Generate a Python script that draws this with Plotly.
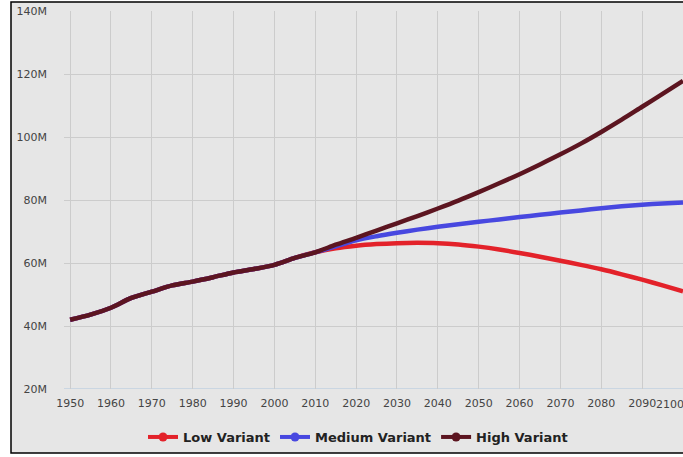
import plotly.graph_objects as go

years_hist = [1950, 1955, 1960, 1965, 1970, 1975, 1980, 1985, 1990, 1995, 2000, 2005, 2010]
pop_hist = [42.0, 43.6, 45.8, 48.9, 50.9, 52.9, 54.1, 55.5, 57.0, 58.1, 59.4, 61.6, 63.4]

years_proj = [2010, 2015, 2020, 2025, 2030, 2035, 2040, 2045, 2050, 2055, 2060, 2065, 2070, 2075, 2080, 2085, 2090, 2095, 2100]
low = [63.4, 64.7, 65.5, 66.0, 66.3, 66.4, 66.3, 65.9, 65.2, 64.3, 63.2, 62.0, 60.7, 59.4, 58.0, 56.4, 54.7, 52.9, 51.0]
medium = [63.4, 65.3, 67.2, 68.5, 69.6, 70.6, 71.5, 72.3, 73.1, 73.8, 74.6, 75.3, 76.0, 76.7, 77.4, 78.0, 78.5, 78.9, 79.2]
high = [63.4, 65.8, 68.0, 70.3, 72.6, 74.9, 77.3, 79.8, 82.5, 85.3, 88.2, 91.3, 94.5, 97.9, 101.6, 105.5, 109.6, 113.7, 117.8]

series = [("Low Variant", low, "#e3222a"), ("Medium Variant", medium, "#4848e0"), ("High Variant", high, "#5c1520")]

y_ticks = [20, 40, 60, 80, 100, 120, 140]
y_tick_text = ["20M", "40M", "60M", "80M", "100M", "120M", "140M"]
x_ticks = list(range(1950, 2101, 10))

fig = go.Figure()
for name, vals, color in series:
    fig.add_trace(go.Scatter(
        x=years_hist + years_proj[1:], y=[v * 1e6 for v in pop_hist + vals[1:]],
        mode="lines", line=dict(color=color, width=4.5, shape="spline", smoothing=0.8),
        name=name, showlegend=False, hoverinfo="skip"))
for name, vals, color in series:
    fig.add_trace(go.Scatter(
        x=[None], y=[None], mode="lines+markers", name=name,
        line=dict(color=color, width=4), marker=dict(color=color, size=9, symbol="circle")))

fig.add_shape(type="rect", xref="paper", yref="paper",
              x0=(11 - 64) / 619, x1=1.05, y0=(389 - 453) / 378, y1=(389 - 2) / 378,
              fillcolor="#e6e6e6", line=dict(color="#000000", width=1.5), layer="below")

# last tick label is justified inside the chart edge, as in the reference
x_tick_text = [str(t) for t in x_ticks[:-1]] + [""]
fig.add_annotation(x=x_ticks[-1], xref="x", xanchor="right", xshift=2, y=-0.04, yref="paper",
                   yanchor="middle", text=str(x_ticks[-1]), showarrow=False, borderpad=0,
                   font=dict(family="DejaVu Sans", size=11, color="#444444"))

fig.update_layout(
    width=683, height=457,
    margin=dict(l=64, r=0, t=11, b=68),
    paper_bgcolor="#ffffff", plot_bgcolor="rgba(0,0,0,0)",
    font=dict(family="DejaVu Sans", size=11, color="#444444"),
    showlegend=True,
    legend=dict(orientation="h", x=0.475, xanchor="center", y=-0.127, yanchor="middle",
                font=dict(family="DejaVu Sans", size=13, color="#222222", weight="bold"),
                bgcolor="rgba(0,0,0,0)", itemwidth=30),
    xaxis=dict(range=[1948.5, 2100.0], tickvals=x_ticks, ticktext=x_tick_text,
               showgrid=True, gridcolor="#cccccc",
               gridwidth=1, zeroline=False, showline=False, ticks="", ticklabelstandoff=6,
               automargin=False,
               tickfont=dict(size=11, color="#444444"), fixedrange=True),
    yaxis=dict(range=[20e6, 140e6], tickvals=[v * 1e6 for v in y_ticks], ticktext=y_tick_text,
               showgrid=True, gridcolor="#cccccc", gridwidth=1, zeroline=False, showline=False,
               ticks="", ticklabelstandoff=16, automargin=False,
               tickfont=dict(size=11, color="#444444"), fixedrange=True),
)
fig.add_shape(type="line", xref="paper", yref="y", x0=0, x1=1, y0=20e6, y1=20e6,
              line=dict(color="#c0d0e0", width=1.5), layer="below")

fig.write_html("out.html", config={"displayModeBar": False},
               post_script="document.body.style.margin='0';document.body.style.overflow='hidden';")
